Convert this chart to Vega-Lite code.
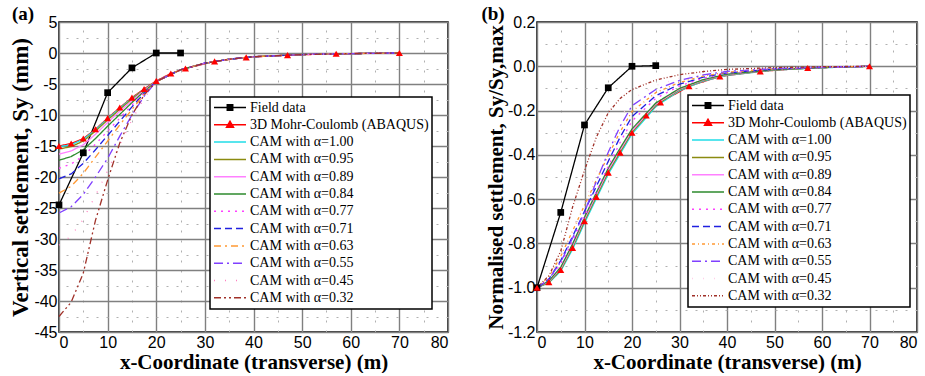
{
 "$schema": "https://vega.github.io/schema/vega-lite/v6.json",
 "background": "white",
 "padding": {"left": 9, "top": 4, "right": 2, "bottom": 0},
 "config": {
  "view": {"stroke": "black", "strokeWidth": 1.5},
  "font": "Liberation Serif",
  "axis": {"labelFont": "Liberation Sans", "labelFontSize": 16, "labelColor": "black", "titleFont": "Liberation Serif", "titleFontSize": 20, "titleFontWeight": "bold", "titleColor": "black", "grid": true, "gridColor": "#808080", "gridWidth": 1.4, "ticks": false, "domain": false, "labelPadding": 2, "titlePadding": 1, "labelOverlap": false, "labelBound": false, "labelFlush": false},
  "legend": {"labelFont": "Liberation Serif", "labelFontSize": 14, "labelColor": "black", "labelLimit": 400, "strokeColor": "black", "strokeWidth": 1.5, "fillColor": "white", "padding": 3, "rowPadding": 2.3, "labelOffset": 3, "symbolStrokeWidth": 1.5, "symbolSize": 1024, "clipHeight": 15, "symbolType": "stroke"},
  "title": {"font": "Liberation Serif", "fontSize": 19, "fontWeight": "bold", "color": "black"}
 },
 "datasets": {
  "d": [
   {"s":"Field data","x":0,"a":-24.5,"b":-1.0},
   {"s":"Field data","x":5,"a":-16.1,"b":-0.66},
   {"s":"Field data","x":10,"a":-6.4,"b":-0.265},
   {"s":"Field data","x":15,"a":-2.4,"b":-0.097},
   {"s":"Field data","x":20,"a":0,"b":0},
   {"s":"Field data","x":25,"a":0,"b":0.003},

   {"s":"3D Mohr-Coulomb (ABAQUS)","x":0,"a":-15,"b":-1},
   {"s":"3D Mohr-Coulomb (ABAQUS)","x":2.5,"a":-14.6,"b":-0.975},
   {"s":"3D Mohr-Coulomb (ABAQUS)","x":5,"a":-13.8,"b":-0.92},
   {"s":"3D Mohr-Coulomb (ABAQUS)","x":7.5,"a":-12.3,"b":-0.82},
   {"s":"3D Mohr-Coulomb (ABAQUS)","x":10,"a":-10.5,"b":-0.7},
   {"s":"3D Mohr-Coulomb (ABAQUS)","x":12.5,"a":-8.8,"b":-0.59},
   {"s":"3D Mohr-Coulomb (ABAQUS)","x":15,"a":-7.2,"b":-0.48},
   {"s":"3D Mohr-Coulomb (ABAQUS)","x":17.5,"a":-5.8,"b":-0.39},
   {"s":"3D Mohr-Coulomb (ABAQUS)","x":20,"a":-4.5,"b":-0.3},
   {"s":"3D Mohr-Coulomb (ABAQUS)","x":23,"a":-3.3,"b":-0.222},
   {"s":"3D Mohr-Coulomb (ABAQUS)","x":26,"a":-2.5,"b":-0.163},
   {"s":"3D Mohr-Coulomb (ABAQUS)","x":32,"a":-1.35,"b":-0.09},
   {"s":"3D Mohr-Coulomb (ABAQUS)","x":38.5,"a":-0.7,"b":-0.046},
   {"s":"3D Mohr-Coulomb (ABAQUS)","x":47,"a":-0.35,"b":-0.023},
   {"s":"3D Mohr-Coulomb (ABAQUS)","x":57,"a":-0.12,"b":-0.008},
   {"s":"3D Mohr-Coulomb (ABAQUS)","x":70,"a":0,"b":0},

   {"s":"CAM with α=1.00","x":0,"a":-15.1,"b":-1},
   {"s":"CAM with α=1.00","x":2.5,"a":-14.8,"b":-0.978},
   {"s":"CAM with α=1.00","x":5,"a":-13.9,"b":-0.925},
   {"s":"CAM with α=1.00","x":7.5,"a":-12.4,"b":-0.826},
   {"s":"CAM with α=1.00","x":10,"a":-10.6,"b":-0.708},
   {"s":"CAM with α=1.00","x":12.5,"a":-8.9,"b":-0.597},
   {"s":"CAM with α=1.00","x":15,"a":-7.3,"b":-0.487},
   {"s":"CAM with α=1.00","x":17.5,"a":-5.9,"b":-0.396},
   {"s":"CAM with α=1.00","x":20,"a":-4.6,"b":-0.306},
   {"s":"CAM with α=1.00","x":25,"a":-2.7,"b":-0.182},
   {"s":"CAM with α=1.00","x":30,"a":-1.65,"b":-0.11},
   {"s":"CAM with α=1.00","x":35,"a":-1.0,"b":-0.067},
   {"s":"CAM with α=1.00","x":40,"a":-0.6,"b":-0.041},
   {"s":"CAM with α=1.00","x":50,"a":-0.25,"b":-0.017},
   {"s":"CAM with α=1.00","x":60,"a":-0.1,"b":-0.007},
   {"s":"CAM with α=1.00","x":70,"a":0,"b":0},

   {"s":"CAM with α=0.95","x":0,"a":-15.5,"b":-1},
   {"s":"CAM with α=0.95","x":2.5,"a":-15.1,"b":-0.976},
   {"s":"CAM with α=0.95","x":5,"a":-14.2,"b":-0.92},
   {"s":"CAM with α=0.95","x":7.5,"a":-12.6,"b":-0.818},
   {"s":"CAM with α=0.95","x":10,"a":-10.8,"b":-0.699},
   {"s":"CAM with α=0.95","x":12.5,"a":-9.1,"b":-0.588},
   {"s":"CAM with α=0.95","x":15,"a":-7.4,"b":-0.478},
   {"s":"CAM with α=0.95","x":17.5,"a":-5.9,"b":-0.387},
   {"s":"CAM with α=0.95","x":20,"a":-4.6,"b":-0.298},
   {"s":"CAM with α=0.95","x":25,"a":-2.7,"b":-0.176},
   {"s":"CAM with α=0.95","x":30,"a":-1.65,"b":-0.106},
   {"s":"CAM with α=0.95","x":35,"a":-1.0,"b":-0.064},
   {"s":"CAM with α=0.95","x":40,"a":-0.6,"b":-0.039},
   {"s":"CAM with α=0.95","x":50,"a":-0.25,"b":-0.016},
   {"s":"CAM with α=0.95","x":60,"a":-0.1,"b":-0.006},
   {"s":"CAM with α=0.95","x":70,"a":0,"b":0},

   {"s":"CAM with α=0.89","x":0,"a":-16.3,"b":-1},
   {"s":"CAM with α=0.89","x":2.5,"a":-15.8,"b":-0.972},
   {"s":"CAM with α=0.89","x":5,"a":-14.8,"b":-0.913},
   {"s":"CAM with α=0.89","x":7.5,"a":-13.1,"b":-0.81},
   {"s":"CAM with α=0.89","x":10,"a":-11.2,"b":-0.69},
   {"s":"CAM with α=0.89","x":12.5,"a":-9.4,"b":-0.579},
   {"s":"CAM with α=0.89","x":15,"a":-7.7,"b":-0.469},
   {"s":"CAM with α=0.89","x":17.5,"a":-6.0,"b":-0.379},
   {"s":"CAM with α=0.89","x":20,"a":-4.6,"b":-0.291},
   {"s":"CAM with α=0.89","x":25,"a":-2.7,"b":-0.171},
   {"s":"CAM with α=0.89","x":30,"a":-1.65,"b":-0.103},
   {"s":"CAM with α=0.89","x":35,"a":-1.0,"b":-0.062},
   {"s":"CAM with α=0.89","x":40,"a":-0.6,"b":-0.038},
   {"s":"CAM with α=0.89","x":50,"a":-0.25,"b":-0.015},
   {"s":"CAM with α=0.89","x":60,"a":-0.1,"b":-0.006},
   {"s":"CAM with α=0.89","x":70,"a":0,"b":0},

   {"s":"CAM with α=0.84","x":0,"a":-17.3,"b":-1},
   {"s":"CAM with α=0.84","x":2.5,"a":-16.7,"b":-0.969},
   {"s":"CAM with α=0.84","x":5,"a":-15.6,"b":-0.907},
   {"s":"CAM with α=0.84","x":7.5,"a":-13.8,"b":-0.802},
   {"s":"CAM with α=0.84","x":10,"a":-11.8,"b":-0.682},
   {"s":"CAM with α=0.84","x":12.5,"a":-9.9,"b":-0.57},
   {"s":"CAM with α=0.84","x":15,"a":-8.0,"b":-0.46},
   {"s":"CAM with α=0.84","x":17.5,"a":-6.2,"b":-0.37},
   {"s":"CAM with α=0.84","x":20,"a":-4.6,"b":-0.283},
   {"s":"CAM with α=0.84","x":25,"a":-2.7,"b":-0.166},
   {"s":"CAM with α=0.84","x":30,"a":-1.65,"b":-0.1},
   {"s":"CAM with α=0.84","x":35,"a":-1.0,"b":-0.06},
   {"s":"CAM with α=0.84","x":40,"a":-0.6,"b":-0.036},
   {"s":"CAM with α=0.84","x":50,"a":-0.25,"b":-0.015},
   {"s":"CAM with α=0.84","x":60,"a":-0.1,"b":-0.006},
   {"s":"CAM with α=0.84","x":70,"a":0,"b":0},

   {"s":"CAM with α=0.77","x":0,"a":-18.6,"b":-1},
   {"s":"CAM with α=0.77","x":2.5,"a":-17.9,"b":-0.962},
   {"s":"CAM with α=0.77","x":5,"a":-16.6,"b":-0.892},
   {"s":"CAM with α=0.77","x":7.5,"a":-14.7,"b":-0.79},
   {"s":"CAM with α=0.77","x":10,"a":-12.6,"b":-0.677},
   {"s":"CAM with α=0.77","x":12.5,"a":-10.5,"b":-0.565},
   {"s":"CAM with α=0.77","x":15,"a":-8.4,"b":-0.452},
   {"s":"CAM with α=0.77","x":17.5,"a":-6.4,"b":-0.344},
   {"s":"CAM with α=0.77","x":20,"a":-4.6,"b":-0.247},
   {"s":"CAM with α=0.77","x":25,"a":-2.7,"b":-0.145},
   {"s":"CAM with α=0.77","x":30,"a":-1.65,"b":-0.089},
   {"s":"CAM with α=0.77","x":35,"a":-1.0,"b":-0.054},
   {"s":"CAM with α=0.77","x":40,"a":-0.6,"b":-0.032},
   {"s":"CAM with α=0.77","x":50,"a":-0.25,"b":-0.013},
   {"s":"CAM with α=0.77","x":60,"a":-0.1,"b":-0.005},
   {"s":"CAM with α=0.77","x":70,"a":0,"b":0},

   {"s":"CAM with α=0.71","x":0,"a":-20.3,"b":-1},
   {"s":"CAM with α=0.71","x":2.5,"a":-19.5,"b":-0.961},
   {"s":"CAM with α=0.71","x":5,"a":-17.8,"b":-0.877},
   {"s":"CAM with α=0.71","x":7.5,"a":-15.6,"b":-0.768},
   {"s":"CAM with α=0.71","x":10,"a":-13.3,"b":-0.655},
   {"s":"CAM with α=0.71","x":12.5,"a":-11.0,"b":-0.542},
   {"s":"CAM with α=0.71","x":15,"a":-8.7,"b":-0.429},
   {"s":"CAM with α=0.71","x":17.5,"a":-6.5,"b":-0.32},
   {"s":"CAM with α=0.71","x":20,"a":-4.6,"b":-0.227},
   {"s":"CAM with α=0.71","x":25,"a":-2.7,"b":-0.133},
   {"s":"CAM with α=0.71","x":30,"a":-1.65,"b":-0.081},
   {"s":"CAM with α=0.71","x":35,"a":-1.0,"b":-0.049},
   {"s":"CAM with α=0.71","x":40,"a":-0.6,"b":-0.03},
   {"s":"CAM with α=0.71","x":50,"a":-0.25,"b":-0.012},
   {"s":"CAM with α=0.71","x":60,"a":-0.1,"b":-0.005},
   {"s":"CAM with α=0.71","x":70,"a":0,"b":0},

   {"s":"CAM with α=0.63","x":0,"a":-22.6,"b":-1},
   {"s":"CAM with α=0.63","x":2.5,"a":-21.5,"b":-0.951},
   {"s":"CAM with α=0.63","x":5,"a":-19.4,"b":-0.858},
   {"s":"CAM with α=0.63","x":7.5,"a":-16.8,"b":-0.743},
   {"s":"CAM with α=0.63","x":10,"a":-14.2,"b":-0.628},
   {"s":"CAM with α=0.63","x":12.5,"a":-11.6,"b":-0.513},
   {"s":"CAM with α=0.63","x":15,"a":-9.1,"b":-0.403},
   {"s":"CAM with α=0.63","x":17.5,"a":-6.7,"b":-0.296},
   {"s":"CAM with α=0.63","x":20,"a":-4.6,"b":-0.204},
   {"s":"CAM with α=0.63","x":25,"a":-2.7,"b":-0.119},
   {"s":"CAM with α=0.63","x":30,"a":-1.65,"b":-0.073},
   {"s":"CAM with α=0.63","x":35,"a":-1.0,"b":-0.044},
   {"s":"CAM with α=0.63","x":40,"a":-0.6,"b":-0.027},
   {"s":"CAM with α=0.63","x":50,"a":-0.25,"b":-0.011},
   {"s":"CAM with α=0.63","x":60,"a":-0.1,"b":-0.004},
   {"s":"CAM with α=0.63","x":70,"a":0,"b":0},

   {"s":"CAM with α=0.55","x":0,"a":-25.8,"b":-1},
   {"s":"CAM with α=0.55","x":2.5,"a":-24.8,"b":-0.961},
   {"s":"CAM with α=0.55","x":5,"a":-22.8,"b":-0.884},
   {"s":"CAM with α=0.55","x":7.5,"a":-20.0,"b":-0.775},
   {"s":"CAM with α=0.55","x":10,"a":-17.0,"b":-0.659},
   {"s":"CAM with α=0.55","x":12.5,"a":-13.4,"b":-0.519},
   {"s":"CAM with α=0.55","x":15,"a":-10.0,"b":-0.388},
   {"s":"CAM with α=0.55","x":17.5,"a":-7.0,"b":-0.271},
   {"s":"CAM with α=0.55","x":20,"a":-4.6,"b":-0.178},
   {"s":"CAM with α=0.55","x":25,"a":-2.7,"b":-0.105},
   {"s":"CAM with α=0.55","x":30,"a":-1.65,"b":-0.064},
   {"s":"CAM with α=0.55","x":35,"a":-1.0,"b":-0.039},
   {"s":"CAM with α=0.55","x":40,"a":-0.6,"b":-0.023},
   {"s":"CAM with α=0.55","x":50,"a":-0.25,"b":-0.01},
   {"s":"CAM with α=0.55","x":60,"a":-0.1,"b":-0.004},
   {"s":"CAM with α=0.55","x":70,"a":0,"b":0},

   {"s":"CAM with α=0.45","x":0,"a":-31,"b":-1},
   {"s":"CAM with α=0.45","x":2.5,"a":-29.5,"b":-0.952},
   {"s":"CAM with α=0.45","x":5,"a":-26.8,"b":-0.865},
   {"s":"CAM with α=0.45","x":7.5,"a":-23.0,"b":-0.742},
   {"s":"CAM with α=0.45","x":10,"a":-19.0,"b":-0.613},
   {"s":"CAM with α=0.45","x":12.5,"a":-14.8,"b":-0.477},
   {"s":"CAM with α=0.45","x":15,"a":-10.8,"b":-0.348},
   {"s":"CAM with α=0.45","x":17.5,"a":-7.3,"b":-0.235},
   {"s":"CAM with α=0.45","x":20,"a":-4.6,"b":-0.148},
   {"s":"CAM with α=0.45","x":25,"a":-2.7,"b":-0.087},
   {"s":"CAM with α=0.45","x":30,"a":-1.65,"b":-0.053},
   {"s":"CAM with α=0.45","x":35,"a":-1.0,"b":-0.032},
   {"s":"CAM with α=0.45","x":40,"a":-0.6,"b":-0.019},
   {"s":"CAM with α=0.45","x":50,"a":-0.25,"b":-0.008},
   {"s":"CAM with α=0.45","x":60,"a":-0.1,"b":-0.003},
   {"s":"CAM with α=0.45","x":70,"a":0,"b":0},

   {"s":"CAM with α=0.32","x":0,"a":-42.5,"b":-1},
   {"s":"CAM with α=0.32","x":2.5,"a":-40.2,"b":-0.946},
   {"s":"CAM with α=0.32","x":5,"a":-35.5,"b":-0.835},
   {"s":"CAM with α=0.32","x":7.5,"a":-27.0,"b":-0.635},
   {"s":"CAM with α=0.32","x":10,"a":-20.5,"b":-0.47},
   {"s":"CAM with α=0.32","x":12.5,"a":-14.5,"b":-0.32},
   {"s":"CAM with α=0.32","x":15,"a":-10.0,"b":-0.21},
   {"s":"CAM with α=0.32","x":17.5,"a":-6.8,"b":-0.145},
   {"s":"CAM with α=0.32","x":20,"a":-4.6,"b":-0.105},
   {"s":"CAM with α=0.32","x":25,"a":-2.7,"b":-0.062},
   {"s":"CAM with α=0.32","x":30,"a":-1.65,"b":-0.038},
   {"s":"CAM with α=0.32","x":35,"a":-1.0,"b":-0.024},
   {"s":"CAM with α=0.32","x":40,"a":-0.6,"b":-0.014},
   {"s":"CAM with α=0.32","x":50,"a":-0.25,"b":-0.006},
   {"s":"CAM with α=0.32","x":60,"a":-0.1,"b":-0.002},
   {"s":"CAM with α=0.32","x":70,"a":0,"b":0}
  ]
 },
 "resolve": {"scale": {"color": "independent", "strokeDash": "independent"}, "legend": {"color": "independent", "strokeDash": "independent"}},
 "spacing": 31,
 "hconcat": [
  {
   "width": 389, "height": 310,
   "title": {"text": "(a)", "anchor": "start", "dx": 2, "dy": 14},
   "data": {"name": "d"},
   "resolve": {"axis": {"x": "independent", "y": "independent"}},
   "layer": [
    {
     "mark": {"type": "line", "strokeWidth": 1.3},
     "encoding": {
      "x": {"field": "x", "type": "quantitative", "scale": {"domain": [0, 80]},
            "axis": {"title": "x-Coordinate (transverse) (m)", "titleFont": "Liberation Serif", "titleFontWeight": "bold", "titleFontSize": 21, "labelFlush": true, "values": [0,10,20,30,40,50,60,70,80], "labelExpr": "'' + datum.value"}},
      "y": {"field": "a", "type": "quantitative", "scale": {"domain": [-45, 5]},
            "axis": {"title": "Vertical settlement, Sy (mm)", "titleFont": "Liberation Serif", "titleFontWeight": "bold", "titleFontSize": 23, "values": [5,0,-5,-10,-15,-20,-25,-30,-35,-40,-45], "labelExpr": "'' + datum.value"}},
      "color": {"field": "s", "type": "nominal",
                "scale": {"domain": ["Field data","3D Mohr-Coulomb (ABAQUS)","CAM with α=1.00","CAM with α=0.95","CAM with α=0.89","CAM with α=0.84","CAM with α=0.77","CAM with α=0.71","CAM with α=0.63","CAM with α=0.55","CAM with α=0.45","CAM with α=0.32"],
                          "range": ["#000000","#ff0000","#22dde8","#8b8b10","#ff80ff","#2e8b2e","#ff40ff","#2020e0","#ff9933","#8040ff","#ff80c0","#a03028"]},
                "legend": {"title": null, "orient": "none", "legendX": 151, "legendY": 75,
                           "encode": {"symbols": {"update": {
                             "shape": {"signal": "datum.value === 'Field data' ? 'M-1,0H1M-0.17,-0.17H0.17V0.17H-0.17Z' : (datum.value === '3D Mohr-Coulomb (ABAQUS)' ? 'M-1,0H1M0,-0.22L0.22,0.16H-0.22Z' : 'stroke')"},
                             "fill": {"signal": "datum.value === 'Field data' ? 'black' : (datum.value === '3D Mohr-Coulomb (ABAQUS)' ? 'red' : 'transparent')"}}}}}},
      "strokeDash": {"field": "s", "type": "nominal",
                "scale": {"domain": ["Field data","3D Mohr-Coulomb (ABAQUS)","CAM with α=1.00","CAM with α=0.95","CAM with α=0.89","CAM with α=0.84","CAM with α=0.77","CAM with α=0.71","CAM with α=0.63","CAM with α=0.55","CAM with α=0.45","CAM with α=0.32"],
                          "range": [[1,0],[1,0],[1,0],[1,0],[1,0],[1,0],[2,5],[7,4],[7,4,2,4],[9,4,2,4],[1,10],[7,3,2,3,2,3]]},
                "legend": {"title": null, "orient": "none", "legendX": 151, "legendY": 75}}
     }
    },
    {
     "transform": [{"filter": "datum.s === 'Field data'"}],
     "mark": {"type": "point", "shape": "square", "filled": true, "color": "black", "size": 45, "opacity": 1},
     "encoding": {
      "x": {"field": "x", "type": "quantitative", "axis": {"title": null, "labels": false, "grid": true, "gridColor": "#b0b0b0", "gridWidth": 1, "gridDash": [2, 8], "values": [5,15,25,35,45,55,65,75]}},
      "y": {"field": "a", "type": "quantitative", "axis": {"title": null, "labels": false, "grid": true, "gridColor": "#b0b0b0", "gridWidth": 1, "gridDash": [2, 8], "values": [2.5,-2.5,-7.5,-12.5,-17.5,-22.5,-27.5,-32.5,-37.5,-42.5]}}
     }
    },
    {
     "transform": [{"filter": "datum.s === '3D Mohr-Coulomb (ABAQUS)'"}],
     "mark": {"type": "point", "shape": "triangle-up", "filled": true, "color": "red", "size": 50, "opacity": 1},
     "encoding": {"x": {"field": "x", "type": "quantitative", "axis": null}, "y": {"field": "a", "type": "quantitative", "axis": null}}
    }
   ]
  },
  {
   "width": 380, "height": 310,
   "title": {"text": "(b)", "anchor": "start", "dx": -4, "dy": 14},
   "data": {"name": "d"},
   "resolve": {"axis": {"x": "independent", "y": "independent"}},
   "layer": [
    {
     "mark": {"type": "line", "strokeWidth": 1.3},
     "encoding": {
      "x": {"field": "x", "type": "quantitative", "scale": {"domain": [0, 80]},
            "axis": {"title": "x-Coordinate (transverse) (m)", "titleFont": "Liberation Serif", "titleFontWeight": "bold", "titleFontSize": 21, "labelFlush": true, "values": [0,10,20,30,40,50,60,70,80], "labelExpr": "'' + datum.value"}},
      "y": {"field": "b", "type": "quantitative", "scale": {"domain": [-1.2, 0.2]},
            "axis": {"title": "Normalised settlement, Sy/Sy,max", "titleFont": "Liberation Serif", "titleFontWeight": "bold", "titleFontSize": 21, "values": [0.2,0,-0.2,-0.4,-0.6,-0.8,-1.0,-1.2],
                     "labelExpr": "replace(format(datum.value, '.1f'), '\u2212', '-')"}},
      "color": {"field": "s", "type": "nominal",
                "scale": {"domain": ["Field data","3D Mohr-Coulomb (ABAQUS)","CAM with α=1.00","CAM with α=0.95","CAM with α=0.89","CAM with α=0.84","CAM with α=0.77","CAM with α=0.71","CAM with α=0.63","CAM with α=0.55","CAM with α=0.45","CAM with α=0.32"],
                          "range": ["#000000","#ff0000","#22dde8","#8b8b10","#ff80ff","#2e8b2e","#ff40ff","#2020e0","#ff9933","#8040ff","#ffd0e8","#a03028"]},
                "legend": {"title": null, "orient": "none", "legendX": 151, "legendY": 73,
                           "encode": {"symbols": {"update": {
                             "shape": {"signal": "datum.value === 'Field data' ? 'M-1,0H1M-0.17,-0.17H0.17V0.17H-0.17Z' : (datum.value === '3D Mohr-Coulomb (ABAQUS)' ? 'M-1,0H1M0,-0.22L0.22,0.16H-0.22Z' : 'stroke')"},
                             "fill": {"signal": "datum.value === 'Field data' ? 'black' : (datum.value === '3D Mohr-Coulomb (ABAQUS)' ? 'red' : 'transparent')"}}}}}},
      "strokeDash": {"field": "s", "type": "nominal",
                "scale": {"domain": ["Field data","3D Mohr-Coulomb (ABAQUS)","CAM with α=1.00","CAM with α=0.95","CAM with α=0.89","CAM with α=0.84","CAM with α=0.77","CAM with α=0.71","CAM with α=0.63","CAM with α=0.55","CAM with α=0.45","CAM with α=0.32"],
                          "range": [[1,0],[1,0],[1,0],[1,0],[1,0],[1,0],[2,5],[7,4],[3,3,1,3],[9,4,2,4],[1,10],[3,2,1,2,1,2]]},
                "legend": {"title": null, "orient": "none", "legendX": 151, "legendY": 73}}
     }
    },
    {
     "transform": [{"filter": "datum.s === 'Field data'"}],
     "mark": {"type": "point", "shape": "square", "filled": true, "color": "black", "size": 45, "opacity": 1},
     "encoding": {
      "x": {"field": "x", "type": "quantitative", "axis": {"title": null, "labels": false, "grid": true, "gridColor": "#b0b0b0", "gridWidth": 1, "gridDash": [2, 8], "values": [5,15,25,35,45,55,65,75]}},
      "y": {"field": "b", "type": "quantitative", "axis": {"title": null, "labels": false, "grid": true, "gridColor": "#b0b0b0", "gridWidth": 1, "gridDash": [2, 8], "values": [0.1,-0.1,-0.3,-0.5,-0.7,-0.9,-1.1]}}
     }
    },
    {
     "transform": [{"filter": "datum.s === '3D Mohr-Coulomb (ABAQUS)'"}],
     "mark": {"type": "point", "shape": "triangle-up", "filled": true, "color": "red", "size": 50, "opacity": 1},
     "encoding": {"x": {"field": "x", "type": "quantitative", "axis": null}, "y": {"field": "b", "type": "quantitative", "axis": null}}
    }
   ]
  }
 ]
}
